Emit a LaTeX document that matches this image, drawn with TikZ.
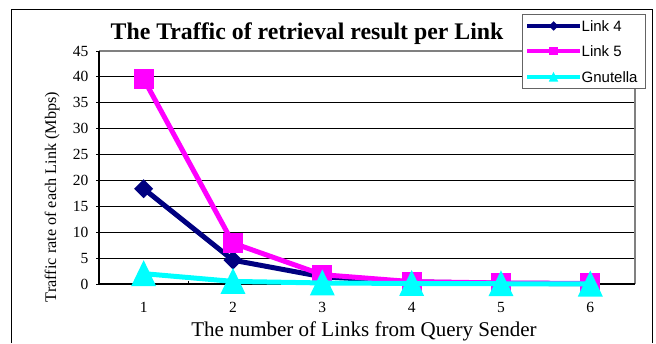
\documentclass[tikz,border=0pt]{standalone}
\usepackage{fontspec}
\setmainfont{Liberation Serif}
\newfontfamily\legfont{Liberation Sans}
\definecolor{navyc}{RGB}{0,0,128}
\definecolor{magc}{RGB}{255,0,255}
\definecolor{cyanc}{RGB}{0,255,255}
\definecolor{bordergray}{RGB}{128,128,128}
\definecolor{leggray}{RGB}{100,100,100}
\begin{document}
\begin{tikzpicture}[x=1pt,y=1pt,
  gridln/.style={black, line width=0.8pt},
  ticklab/.style={font=\fontsize{15.5}{17}\selectfont, inner sep=0pt},
  seriesline/.style={line width=5pt, line join=round, line cap=round},
  legline/.style={line width=3.5pt},
  legtext/.style={font=\legfont\fontsize{15}{17}\selectfont, anchor=west, inner sep=0pt},
  diam/.pic={\fill[navyc] (0,9.5) -- (9.5,0) -- (0,-9.5) -- (-9.5,0) -- cycle;},
  sqm/.pic={\fill[magc] (-10,-10) rectangle (10,10);},
  trim/.pic={\fill[cyanc] (-12.5,-12.5) -- (0,13.5) -- (12.5,-12.5) -- cycle;}
]
\useasboundingbox (0,0) rectangle (656,343);
\fill[white] (0,0) rectangle (656,343);
% outer frame
\draw[line width=1pt] (11,0) -- (11,333) -- (652,333) -- (652,0);
% title
\node[font=\bfseries\fontsize{23.8}{26}\selectfont, anchor=base, inner sep=0pt] (title) at (307,303) {The Traffic of retrieval result per Link};
% gridlines
\foreach \v in {5,10,...,40} \draw[gridln] (99,{59+\v*5.178}) -- (635,{59+\v*5.178});
% plot border (top and right)
\draw[bordergray, line width=1.8pt] (99,292) -- (635,292) -- (635,59);
% axes
\draw[line width=1.4pt] (99,292) -- (99,59) -- (635,59);
% y ticks and labels
\foreach \v in {0,5,...,45} {
  \draw[line width=0.8pt] (96,{59+\v*5.178}) -- (99,{59+\v*5.178});
  \node[ticklab, anchor=east] (yt\v) at (88.5,{59+\v*5.178}) {\v};
}
% x ticks and labels
\foreach \k in {1,...,5} \draw[line width=0.8pt] ({99+89.33*\k},59) -- ++(0,3);
\foreach \k in {1,...,6} \node[ticklab] (xt\k) at ({99+89.33*(\k-0.5)},35.3) {\k};
% axis titles
\node[font=\fontsize{16.2}{18}\selectfont, rotate=90, anchor=base, inner sep=0pt] (ylab) at (56,146) {Traffic rate of each Link (Mbps)};
\node[font=\fontsize{21}{24}\selectfont, anchor=base, inner sep=0pt] (xlab) at (364,6.3) {The number of Links from Query Sender};
% data coordinates
\foreach \v [count=\i] in {18.4,4.6,1.4,0.4,0.15,0.05}
  \coordinate (a\i) at ({99+89.33*(\i-0.5)},{59+\v*5.178});
\foreach \v [count=\i] in {39.6,7.9,1.8,0.45,0.2,0.1}
  \coordinate (b\i) at ({99+89.33*(\i-0.5)},{59+\v*5.178});
\foreach \v [count=\i] in {2.0,0.5,0.2,0.1,0.05,0.0}
  \coordinate (c\i) at ({99+89.33*(\i-0.5)},{59+\v*5.178});
% Link 4
\draw[navyc, seriesline] (a1) -- (a2) -- (a3) -- (a4) -- (a5) -- (a6);
\foreach \i in {1,...,6} \pic at (a\i) {diam};
% Link 5
\draw[magc, seriesline] (b1) -- (b2) -- (b3) -- (b4) -- (b5) -- (b6);
\foreach \i in {1,...,6} \pic at (b\i) {sqm};
% Gnutella
\draw[cyanc, seriesline] (c1) -- (c2) -- (c3) -- (c4) -- (c5) -- (c6);
\foreach \i in {1,...,6} \pic at (c\i) {trim};
% legend
\draw[leggray, fill=white, line width=1pt] (522,254) rectangle (645,328);
\coordinate (l1s) at (527,317); \coordinate (l1e) at (580,317);
\coordinate (l2s) at (527,292); \coordinate (l2e) at (580,292);
\coordinate (l3s) at (527,266); \coordinate (l3e) at (580,266);
\draw[navyc, legline] (l1s) -- (l1e);
\pic[scale=0.5] at (553.5,317) {diam};
\node[legtext] (leg1) at (581.5,317) {Link 4};
\draw[magc, legline] (l2s) -- (l2e);
\pic[scale=0.42] at (553.5,292) {sqm};
\node[legtext] (leg2) at (581.5,292) {Link 5};
\draw[cyanc, legline] (l3s) -- (l3e);
\pic[scale=0.38] at (553.5,266) {trim};
\node[legtext] (leg3) at (581.5,266) {Gnutella};
\end{tikzpicture}
\end{document}
